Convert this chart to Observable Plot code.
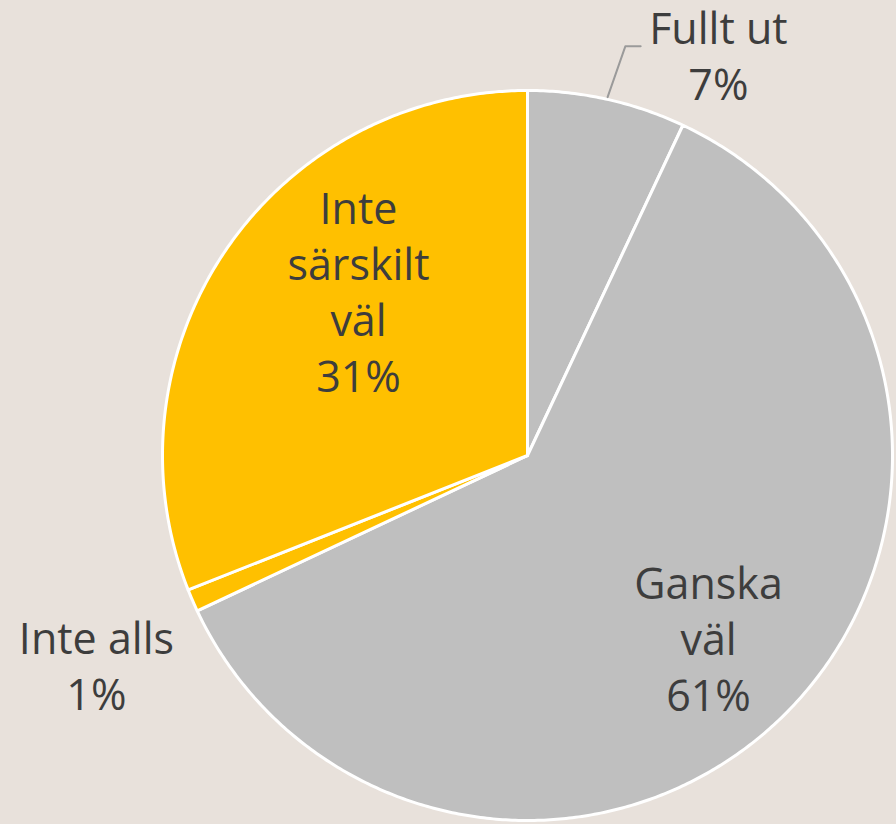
<!DOCTYPE html>
<html>
<head>
<meta charset="utf-8">
<script src="https://cdn.jsdelivr.net/npm/d3@7"></script>
<script src="https://cdn.jsdelivr.net/npm/@observablehq/plot@0.6"></script>
<style>
  html, body { margin: 0; padding: 0; background: #e8e1db; }
  #chart svg { display: block; }
</style>
</head>
<body>
<div id="chart"></div>
<script>
// ---- data ----
const categories = ["Fullt ut", "Ganska väl", "Inte alls", "Inte särskilt väl"];
const values = [7, 61, 1, 31];
const labelLines = ["Fullt ut", "Ganska\nväl", "Inte alls", "Inte\nsärskilt\nväl"];

// ---- layout / style ----
const W = 896, H = 824;
const CX = 527, CY = 455, R = 365;          // pie centre & radius in px
const colors = ["#bfbfbf", "#bfbfbf", "#ffc000", "#ffc000"];
// label block centres in unit-circle coordinates (y down)
const labelPos = [[0.523, -1.099], [0.496, 0.497], [-1.181, 0.572], [-0.463, -0.454]];
const leaderElbow = [[0.268, -1.121], [0.310, -1.121]];

const data = categories.map((c, i) => ({cat: c, value: values[i]}));
const arcs = d3.pie().sort(null).value(d => d.value)(data);

// slice outlines (geometry sampled along each arc)
const slicePts = [];
for (const a of arcs) {
  const n = Math.max(2, Math.ceil((a.endAngle - a.startAngle) / (Math.PI / 360)));
  slicePts.push({cat: a.data.cat, x: 0, y: 0});
  for (let k = 0; k <= n; k++) {
    const t = a.startAngle + (a.endAngle - a.startAngle) * k / n;
    slicePts.push({cat: a.data.cat, x: Math.sin(t), y: -Math.cos(t)});
  }
  slicePts.push({cat: a.data.cat, x: 0, y: 0});
}

const labels = arcs.map((a, i) => ({
  text: labelLines[i] + "\n" + a.data.value + "%",
  x: labelPos[i][0], y: labelPos[i][1]
}));

const mid0 = (arcs[0].startAngle + arcs[0].endAngle) / 2;
const leader = [
  {x: 1.006 * Math.sin(mid0), y: -1.006 * Math.cos(mid0)},
  {x: leaderElbow[0][0], y: leaderElbow[0][1]},
  {x: leaderElbow[1][0], y: leaderElbow[1][1]}
];

const chart = Plot.plot({
  width: W, height: H,
  margin: 0,
  style: {background: "#e8e1db", overflow: "visible"},
  x: {domain: [-CX / R, (W - CX) / R], range: [0, W], axis: null},
  y: {domain: [-CY / R, (H - CY) / R], range: [0, H], axis: null},
  color: {domain: categories, range: colors},
  marks: [
    Plot.line(slicePts, {x: "x", y: "y", z: "cat", fill: "cat", stroke: "white",
      strokeWidth: 3, strokeLinejoin: "round", curve: "linear"}),
    Plot.line(leader, {x: "x", y: "y", stroke: "#9a9a9a", strokeWidth: 2}),
    Plot.text(labels, {x: "x", y: "y", text: "text", fontSize: 43, lineHeight: 1.3,
      fill: "#3d3d3d", fontFamily: "'Open Sans', sans-serif", textAnchor: "middle",
      lineAnchor: "middle"})
  ]
});
document.getElementById("chart").appendChild(chart);
</script>
</body>
</html>
